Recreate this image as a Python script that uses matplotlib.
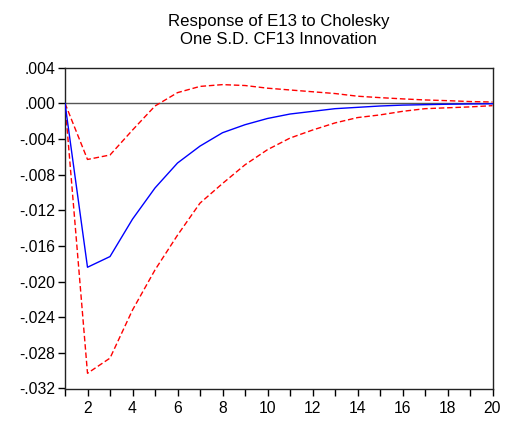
#!/usr/bin/env python

# Impulse response of E13 to a Cholesky one S.D. CF13 shock, with +/- 2 S.E. bands

import matplotlib
matplotlib.use('Agg')
import matplotlib.pyplot as plt
from matplotlib.ticker import MultipleLocator, FuncFormatter

periods = list(range(1, 21))
response = [0.0, -0.0184, -0.0172, -0.0130, -0.0095, -0.0067, -0.0048, -0.0033,
            -0.0024, -0.0017, -0.0012, -0.0009, -0.0006, -0.00045, -0.0003,
            -0.0002, -0.00015, -0.0001, -0.00007, -0.00005]
upper = [0.0, -0.0063, -0.0058, -0.0030, -0.0003, 0.0012, 0.0019, 0.0021,
         0.0020, 0.0017, 0.0015, 0.0013, 0.0011, 0.0008, 0.00064, 0.0005,
         0.00038, 0.0003, 0.0002, 0.00015]
lower = [0.0, -0.0303, -0.0286, -0.0232, -0.0187, -0.0148, -0.0112, -0.0090,
         -0.0069, -0.0052, -0.0039, -0.0030, -0.0022, -0.0016, -0.0013,
         -0.0009, -0.0006, -0.0005, -0.0004, -0.00026]

plt.rcParams['font.family'] = ['Liberation Sans', 'DejaVu Sans']

fig = plt.figure(figsize=(5.09, 4.25), dpi=100)
ax = fig.add_axes([65 / 509, 1 - 389.3 / 425, (492.5 - 65) / 509, (389.3 - 67.7) / 425])

ax.axhline(0, color='#555555', lw=1.0, zorder=1)
ax.plot(periods, response, color='blue', lw=1.0, zorder=3)
ax.plot(periods, upper, color='red', lw=1.0, ls=(0, (4, 2)), zorder=2)
ax.plot(periods, lower, color='red', lw=1.0, ls=(0, (4, 2)), zorder=2)

ax.set_xlim(1, 20)
ax.set_ylim(-0.0321, 0.004)
ax.xaxis.set_major_locator(MultipleLocator(2))
ax.xaxis.set_minor_locator(MultipleLocator(1))
ax.yaxis.set_major_locator(MultipleLocator(0.004))

def fmt(v, pos):
    s = '%.3f' % v
    if s.startswith('-0'):
        s = '-' + s[2:]
    elif s.startswith('0'):
        s = s[1:]
    return s

ax.yaxis.set_major_formatter(FuncFormatter(fmt))
ax.tick_params(axis='both', which='major', direction='out', length=5, width=1,
               labelsize=11.3, colors='black')
ax.tick_params(axis='x', which='minor', direction='out', length=5, width=1)
ax.tick_params(axis='y', which='major', pad=2)
for sp in ax.spines.values():
    sp.set_linewidth(1.0)
    sp.set_color('#222222')

ax.set_title('Response of E13 to Cholesky\nOne S.D. CF13 Innovation',
             fontsize=12.1, linespacing=1.25, pad=17)

fig.savefig('out.png', dpi=100)
